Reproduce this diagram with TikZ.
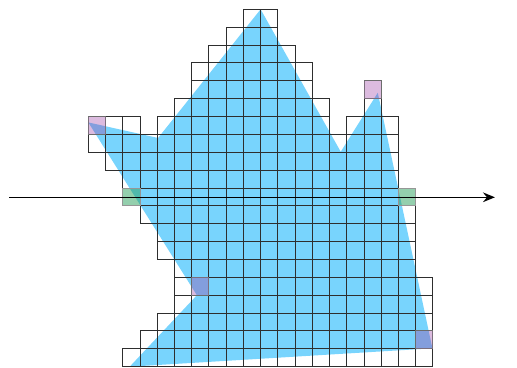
\documentclass[tikz,border=0pt]{standalone}
\usetikzlibrary{arrows.meta}
\definecolor{polyblue}{HTML}{78D4FD}
\definecolor{cellline}{HTML}{2E2E2E}
\definecolor{vtxpurple}{HTML}{9A3CA4}
\definecolor{hitgreen}{HTML}{2AA05C}

\begin{document}
\begin{tikzpicture}[x={(17.23pt,0)}, y={(0,-17.87pt)},
  cell/.style={draw=cellline, line width=0.95pt},
  vtxcell/.style={fill=vtxpurple, fill opacity=0.35, draw=cellline!50, draw opacity=0.6, line width=0.95pt},
  hitcell/.style={fill=hitgreen, fill opacity=0.5, draw=cellline!50, line width=0.95pt},
  >={Stealth[length=4.2mm, width=3.4mm, inset=1.4mm]}]

% Frame (grid units, row index runs downwards)
\useasboundingbox (-5.125,-0.52) rectangle (24.88,20.07);

% Polygon corners
\coordinate (top)    at (10,0);
\coordinate (valley) at (14.65,7.97);
\coordinate (peak)   at (16.8,4.67);
\coordinate (lowR)   at (19.97,18.97);
\coordinate (lowL)   at (2.4,20);
\coordinate (notch)  at (6.3,16.0);
\coordinate (tipL)   at (0,6.33);
\coordinate (dent)   at (4.05,7.2);

% Filled polygon
\fill[polyblue] (top) -- (valley) -- (peak) -- (lowR) -- (lowL)
  -- (notch) -- (tipL) -- (dent) -- cycle;

% Covered cells, row/first column/last column
\foreach \row/\first/\last in {0/9/10, 1/8/10, 2/7/11, 3/6/12, 4/6/12, 4/16/16,
    5/5/13, 5/16/16, 6/0/2, 6/4/13, 6/15/17, 7/0/17, 8/1/17, 9/2/17,
    10/2/18, 11/3/18, 12/4/18, 13/4/18, 14/5/18, 15/5/19, 16/5/19,
    17/4/19, 18/3/19, 19/2/19}
  \foreach \col in {\first,...,\last}
    \draw[cell] (\col,\row) rectangle ++(1,1);

% Cells holding a corner
\foreach \col/\row in {16/4, 0/6, 6/15, 19/18}
  \draw[vtxcell] (\col,\row) rectangle ++(1,1);

% Cells hit by the scan line
\foreach \col/\row in {2/10, 18/10}
  \draw[hitcell] (\col,\row) rectangle ++(1,1);

% Scan line
\coordinate (scanA) at (-4.6,10.52);
\coordinate (scanB) at (23.6,10.52);
\draw[black, line width=1.5pt, ->] (scanA) -- (scanB);

\end{tikzpicture}
\end{document}
